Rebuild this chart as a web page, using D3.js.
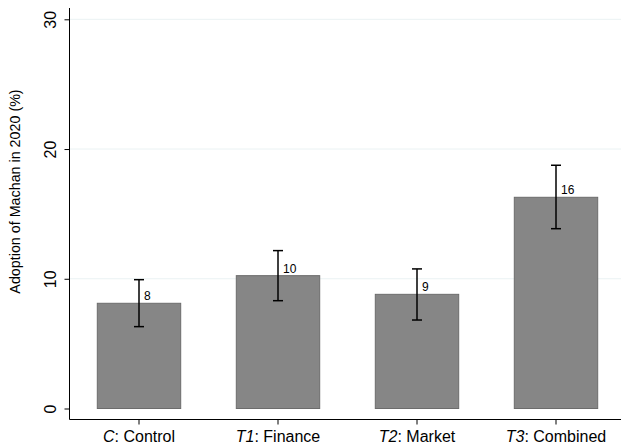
<!DOCTYPE html>
<html lang="en">
<head>
    <meta charset="UTF-8">
    <title>Adoption of Machan in 2020</title>
    <style>
        body { margin: 0; background: #fff; }
        svg text { font-family: "Liberation Sans", Arial, sans-serif; fill: #000; }
    </style>
</head>
<body>
    <svg id="chart" width="621" height="444"></svg>

    <script src="https://d3js.org/d3.v7.min.js"></script>
    <script>
        // --- DADOS ---
        const groups = ["C", "T1", "T2", "T3"];
        const groupNames = ["Control", "Finance", "Market", "Combined"];
        const means = [8.11, 10.24, 8.80, 16.28];
        const ciLow = [6.31, 8.31, 6.82, 13.86];
        const ciHigh = [9.93, 12.17, 10.76, 18.75];
        const valueLabels = ["8", "10", "9", "16"];
        const yTicks = [0, 10, 20, 30];

        const width = 621, height = 444;
        const axisX = 69.5, axisY = 419.5;

        const svg = d3.select("#chart");

        const x = d3.scaleBand()
            .domain(groups)
            .range([axisX, 625.5])
            .paddingInner(0.4)
            .paddingOuter(0.2);

        const y = d3.scaleLinear()
            .domain([0, 30])
            .range([408.5, 19.3]);

        // grid
        svg.append("g")
            .selectAll("line")
            .data(yTicks.filter(d => d > 0))
            .join("line")
            .attr("x1", axisX).attr("x2", width)
            .attr("y1", d => y(d)).attr("y2", d => y(d))
            .attr("stroke", "#eaf2f3")
            .attr("stroke-width", 1);

        // bars
        svg.append("g")
            .selectAll("rect")
            .data(groups)
            .join("rect")
            .attr("x", d => x(d))
            .attr("y", (d, i) => y(means[i]))
            .attr("width", x.bandwidth())
            .attr("height", (d, i) => y(0) - y(means[i]))
            .attr("fill", "#868686")
            .attr("stroke", "#6c6c6c")
            .attr("stroke-width", 1);

        // error bars
        const cx = d => x(d) + x.bandwidth() / 2;
        const err = svg.append("g").attr("stroke", "#000").attr("stroke-width", 1.5);
        groups.forEach((g, i) => {
            err.append("line")
                .attr("x1", cx(g)).attr("x2", cx(g))
                .attr("y1", y(ciLow[i])).attr("y2", y(ciHigh[i]));
            [ciLow[i], ciHigh[i]].forEach(v => {
                err.append("line")
                    .attr("x1", cx(g) - 5).attr("x2", cx(g) + 5)
                    .attr("y1", y(v)).attr("y2", y(v));
            });
        });

        // value labels
        svg.append("g")
            .selectAll("text")
            .data(groups)
            .join("text")
            .attr("x", d => cx(d) + 5)
            .attr("y", (d, i) => y(means[i]) - 3)
            .attr("font-size", 12)
            .text((d, i) => valueLabels[i]);

        // y axis
        const yAxis = svg.append("g")
            .attr("transform", `translate(${axisX},0)`)
            .call(d3.axisLeft(y).tickValues(yTicks).tickSize(5).tickSizeOuter(0));
        yAxis.select(".domain").remove();
        yAxis.selectAll(".tick line").attr("stroke", "#000");
        yAxis.selectAll(".tick text")
            .attr("font-size", 16)
            .attr("x", 0).attr("dy", 0)
            .attr("text-anchor", "middle")
            .attr("transform", "translate(-14,0) rotate(-90)");
        svg.append("line")
            .attr("x1", axisX).attr("x2", axisX)
            .attr("y1", 8).attr("y2", axisY)
            .attr("stroke", "#000");

        // x axis
        const xAxis = svg.append("g")
            .attr("transform", `translate(0,${axisY})`)
            .call(d3.axisBottom(x).tickSize(5).tickSizeOuter(0).tickFormat(() => ""));
        xAxis.select(".domain").remove();
        xAxis.selectAll(".tick line").attr("stroke", "#000");
        svg.append("line")
            .attr("x1", axisX).attr("x2", width)
            .attr("y1", axisY).attr("y2", axisY)
            .attr("stroke", "#000");

        const xl = svg.append("g")
            .selectAll("text")
            .data(groups)
            .join("text")
            .attr("x", d => cx(d))
            .attr("y", 441.5)
            .attr("font-size", 16)
            .attr("text-anchor", "middle");
        xl.append("tspan").attr("font-style", "italic").text(d => d);
        xl.append("tspan").text((d, i) => ": " + groupNames[i]);

        // y title
        svg.append("text")
            .attr("transform", `translate(20,191.5) rotate(-90)`)
            .attr("text-anchor", "middle")
            .attr("font-size", 14.3)
            .text("Adoption of Machan in 2020 (%)");
    </script>
</body>
</html>
